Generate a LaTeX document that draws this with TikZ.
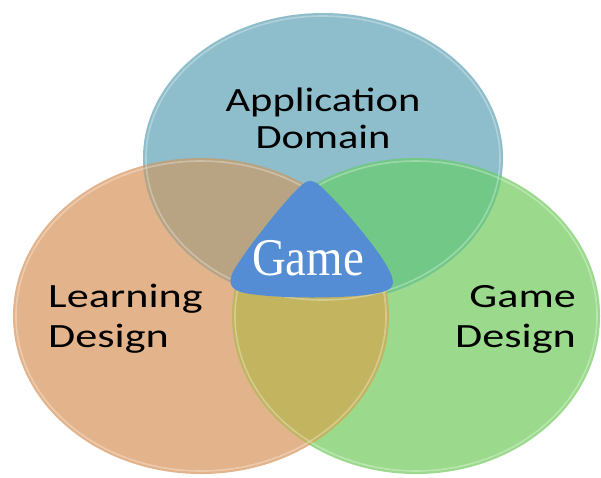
\documentclass[tikz,border=0pt]{standalone}
\usepackage{fontspec}
\newfontfamily\labelfont[FakeStretch=1.25]{Carlito}
\newfontfamily\lowfont[FakeStretch=1.3]{Carlito}
\newfontfamily\gamefont[FakeStretch=0.885]{Liberation Serif}
\definecolor{bcol}{RGB}{142,190,203}
\definecolor{ocol}{RGB}{227,180,140}
\definecolor{gcol}{RGB}{155,218,140}
\definecolor{bocol}{RGB}{184,163,131}
\definecolor{bgcol}{RGB}{114,200,134}
\definecolor{ogcol}{RGB}{195,180,96}
\definecolor{gamecol}{RGB}{84,141,212}
\tikzset{
  rim/.style={draw=white, draw opacity=0.3, line width=1.6pt},
  label/.style={font=\lowfont\fontsize{34}{40}\selectfont, inner sep=0pt, text=black},
}
\begin{document}
\begin{tikzpicture}[x=1pt,y=-1pt]
\useasboundingbox[fill=white] (0,0) rectangle (601,477);
\def\blueE{(323,158) ellipse [x radius=180pt, y radius=145pt]}
\def\orangeE{(201,316) ellipse [x radius=188pt, y radius=158pt]}
\def\greenE{(416,316) ellipse [x radius=184pt, y radius=158pt]}
% single regions
\fill[ocol] \orangeE;
\fill[gcol] \greenE;
\fill[bcol] \blueE;
% pairwise overlaps
\begin{scope}
  \clip \blueE;
  \fill[bocol] \orangeE;
  \fill[bgcol] \greenE;
\end{scope}
\begin{scope}
  \clip \orangeE;
  \fill[ogcol] \greenE;
\end{scope}
% rims
\path[rim] (323,158) ellipse [x radius=177pt, y radius=142pt];
\path[rim] (201,316) ellipse [x radius=185pt, y radius=155pt];
\path[rim] (416,316) ellipse [x radius=181pt, y radius=155pt];
% game shape
\fill[gamecol] (303,184)
  .. controls (307,180) and (313,180) .. (318,184)
  .. controls (335,198) and (380,250) .. (390,272)
  .. controls (396,285) and (393,290) .. (378,293)
  .. controls (350,299) and (275,299) .. (245,293)
  .. controls (230,290) and (228,283) .. (233,272)
  .. controls (245,250) and (288,196) .. (303,184) -- cycle;
\node[anchor=base, inner sep=0pt, text=white, font=\gamefont\fontsize{53}{60}\selectfont] (game) at (308,275) {Game};
% labels (anchor base = baseline of last line)
\node[label, align=center, anchor=base, font=\labelfont\fontsize{34}{37}\selectfont] (app) at (323,148) {Application\\Domain};
\node[label, align=left, anchor=base west] (learn) at (48,347) {Learning\\Design};
\node[label, align=right, anchor=base east] (gdes) at (576,347) {Game\\Design};
\end{tikzpicture}
\end{document}
